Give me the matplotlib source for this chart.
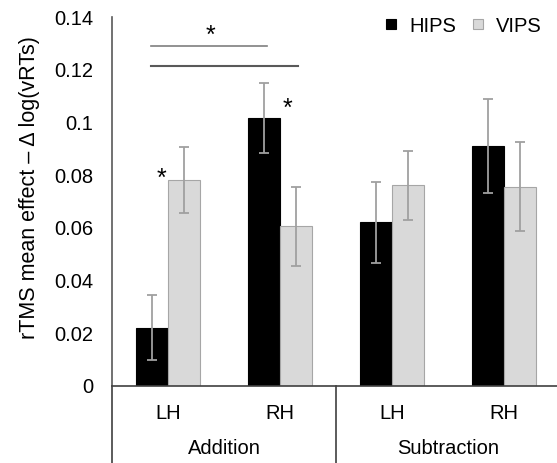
import matplotlib
matplotlib.use("Agg")
import matplotlib.pyplot as plt
from matplotlib.lines import Line2D
import numpy as np

plt.rcParams['font.family'] = ['Liberation Sans', 'DejaVu Sans']

conditions = ["LH", "RH", "LH", "RH"]
groups = ["Addition", "Subtraction"]
hips = [0.022, 0.1015, 0.062, 0.091]
hips_err = [0.0123, 0.0133, 0.0153, 0.018]
vips = [0.078, 0.0606, 0.0761, 0.0756]
vips_err = [0.0126, 0.015, 0.0131, 0.017]
yticks = [0, 0.02, 0.04, 0.06, 0.08, 0.1, 0.12, 0.14]
ytick_labels = ["0", "0.02", "0.04", "0.06", "0.08", "0.1", "0.12", "0.14"]

W, H = 557, 463
FS = 14.5
fig = plt.figure(figsize=(W / 100, H / 100), dpi=100)
ax = fig.add_axes([112 / W, 77.3 / H, 445 / W, 368.7 / H])

x = np.arange(len(conditions))
bw = 0.285
ekw = dict(ecolor="#a0a0a0", elinewidth=1.3, capthick=1.3)
ax.bar(x - bw / 2, hips, bw, color="black", edgecolor="black", linewidth=0.8,
       yerr=hips_err, capsize=3.6, error_kw=ekw, label="HIPS", zorder=2)
ax.bar(x + bw / 2, vips, bw, color="#d9d9d9", edgecolor="#a6a6a6", linewidth=0.8,
       yerr=vips_err, capsize=3.6, error_kw=ekw, label="VIPS", zorder=2)

ax.set_xlim(-0.5, 3.5 - 3 / 112)
ax.set_ylim(0, 0.14)
ax.set_yticks(yticks)
ax.set_yticklabels(ytick_labels, fontsize=FS)
ax.tick_params(axis="y", length=0, pad=13.7)
ax.set_xticks([])

for s in ["top", "right"]:
    ax.spines[s].set_visible(False)
ax.spines["left"].set_color("#595959")
ax.spines["left"].set_linewidth(1.2)
ax.spines["bottom"].set_color("#404040")
ax.spines["bottom"].set_linewidth(1.2)

tr = ax.get_xaxis_transform()
for xv in [-0.5, 1.5]:
    ax.plot([xv, xv], [0, -0.22], transform=tr, color="#404040", lw=1.2, clip_on=False)
for xi, lab in zip(x, conditions):
    ax.text(xi, -27.5 / 368.7, lab, transform=tr, ha="center", va="center", fontsize=FS)
for gi, g in enumerate(groups):
    ax.text(0.5 + 2 * gi, -62.5 / 368.7, g, transform=tr, ha="center", va="center", fontsize=FS)

fig.text(30 / W, 1 - 188 / H, "rTMS mean effect \u2013 \u0394 log(vRTs)", fontsize=15.5,
         rotation=90, ha="center", va="center")

# significance markers
ax.plot([-0.154, 0.881], [0.1291, 0.1291], color="#7f7f7f", lw=1.2, clip_on=False)
ax.plot([-0.154, 1.158], [0.1215, 0.1215], color="#595959", lw=1.5, clip_on=False)
for sx, sy in [(0.375, 0.1329), (-0.0625, 0.0786), (1.0625, 0.1052)]:
    ax.text(sx, sy, "*", ha="center", va="center", fontsize=18)

handles = [
    Line2D([], [], marker="s", linestyle="none", markersize=7,
           markerfacecolor="black", markeredgecolor="black", markeredgewidth=0.8),
    Line2D([], [], marker="s", linestyle="none", markersize=7,
           markerfacecolor="#d9d9d9", markeredgecolor="#a6a6a6", markeredgewidth=0.8),
]
leg = fig.legend(handles, ["HIPS", "VIPS"], loc="center right",
                 bbox_to_anchor=(542 / W, 1 - 26 / H), ncol=2, frameon=False,
                 fontsize=FS, handlelength=0.48, handletextpad=0.67,
                 columnspacing=0.82, borderpad=0, borderaxespad=0)

fig.savefig("out.png", dpi=100)
